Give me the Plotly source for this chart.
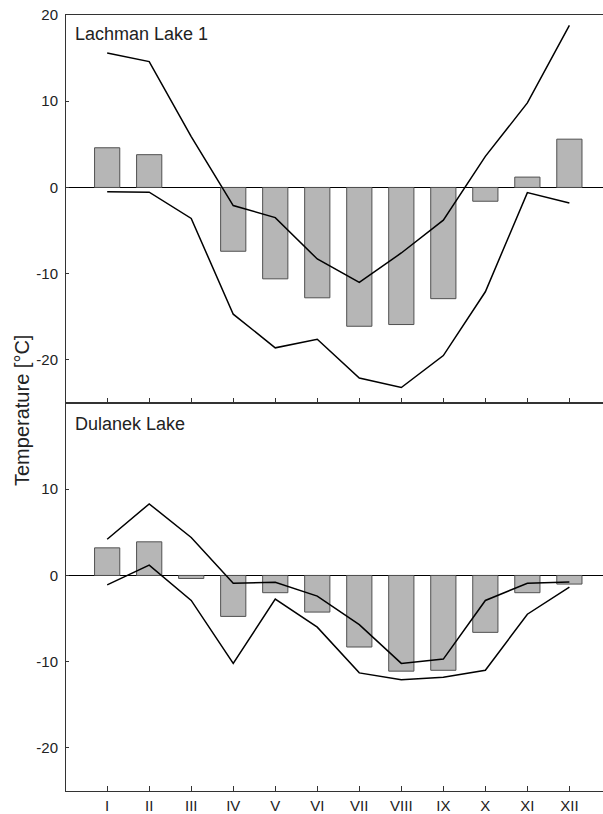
import plotly.graph_objects as go
from plotly.subplots import make_subplots

months = ["I", "II", "III", "IV", "V", "VI", "VII", "VIII", "IX", "X", "XI", "XII"]

# Lachman Lake 1
lachman_bars = [4.6, 3.8, None, -7.4, -10.6, -12.8, -16.1, -15.9, -12.9, -1.6, 1.2, 5.6]
lachman_upper = [15.6, 14.6, 5.9, -2.1, -3.5, -8.3, -11.0, -7.6, -3.8, 3.6, 9.8, 18.8]
lachman_lower = [-0.5, -0.55, -3.6, -14.7, -18.6, -17.6, -22.1, -23.2, -19.5, -12.1, -0.6, -1.8]

# Dulanek Lake
dulanek_bars = [3.2, 3.9, -0.35, -4.75, -2.0, -4.25, -8.3, -11.1, -11.0, -6.6, -2.0, -1.0]
dulanek_upper = [4.2, 8.3, 4.4, -0.9, -0.8, -2.4, -5.7, -10.2, -9.7, -2.9, -0.9, -0.75]
dulanek_lower = [-1.1, 1.2, -2.9, -10.2, -2.75, -6.0, -11.3, -12.1, -11.8, -11.0, -4.5, -1.35]

top_yticks = [-20, -10, 0, 10, 20]
bottom_yticks = [-20, -10, 0, 10]

panel_titles = ["Lachman Lake 1", "Dulanek Lake"]
y_title = "Temperature [°C]"

FONT = "Liberation Sans, Arial, sans-serif"

fig = make_subplots(rows=2, cols=1, shared_xaxes=False, vertical_spacing=0.0)

panels = [
    (lachman_bars, lachman_upper, lachman_lower),
    (dulanek_bars, dulanek_upper, dulanek_lower),
]
for r, (bars, up, lo) in enumerate(panels, start=1):
    fig.add_trace(go.Bar(x=months, y=bars, width=0.6,
                         marker=dict(color="#b6b6b6", line=dict(color="#505050", width=1)),
                         showlegend=False), row=r, col=1)
    fig.add_trace(go.Scatter(x=months, y=up, mode="lines",
                             line=dict(color="black", width=1.5), showlegend=False), row=r, col=1)
    fig.add_trace(go.Scatter(x=months, y=lo, mode="lines",
                             line=dict(color="black", width=1.5), showlegend=False), row=r, col=1)

xcommon = dict(type="category", categoryorder="array", categoryarray=months,
               range=[-0.98, 11.8], showline=True, linecolor="#333", linewidth=1,
               mirror=True, ticks="inside", ticklen=5, tickcolor="#333",
               showgrid=False, zeroline=False, automargin=False, ticklabelstandoff=1,
               tickfont=dict(family=FONT, size=15, color="#222"))
fig.update_xaxes(**xcommon)
fig.update_xaxes(showticklabels=False, row=1, col=1)

ycommon = dict(range=[-25, 20], showline=True, linecolor="#333", linewidth=1,
               ticks="inside", ticklen=3, tickcolor="#333", showgrid=False,
               zeroline=True, zerolinecolor="black", zerolinewidth=1, automargin=False,
               tickfont=dict(family=FONT, size=15, color="#222"), ticklabelstandoff=4)
fig.update_yaxes(**ycommon)
fig.update_yaxes(tickvals=top_yticks, ticktext=[str(v) for v in top_yticks], row=1, col=1)
fig.update_yaxes(tickvals=bottom_yticks, ticktext=[str(v) for v in bottom_yticks], row=2, col=1)

fig.update_layout(
    width=603, height=814,
    margin=dict(l=66, r=0, t=15, b=23, autoexpand=False),
    plot_bgcolor="white", paper_bgcolor="white",
    bargap=0.4,
    font=dict(family=FONT, color="#222"),
)
fig.update_yaxes(domain=[0.5, 1.0], row=1, col=1)
fig.update_yaxes(domain=[0.0, 0.5], row=2, col=1)

fig.add_annotation(text=panel_titles[0], xref="paper", yref="paper",
                   x=(73 - 66) / 537, y=(791 - 34) / 776, xanchor="left", yanchor="middle",
                   showarrow=False, font=dict(family=FONT, size=18, color="#222"))
fig.add_annotation(text=panel_titles[1], xref="paper", yref="paper",
                   x=(73 - 66) / 537, y=(791 - 424) / 776, xanchor="left", yanchor="middle",
                   showarrow=False, font=dict(family=FONT, size=18, color="#222"))
fig.add_annotation(text=y_title, xref="paper", yref="paper",
                   x=(22 - 66) / 537, y=(791 - 411) / 776, xanchor="center", yanchor="middle",
                   textangle=-90, showarrow=False, font=dict(family=FONT, size=20, color="#222"))

fig.write_html("out.html", config={"displayModeBar": False},
               post_script="document.body.style.margin='0';document.body.style.overflow='hidden';")
